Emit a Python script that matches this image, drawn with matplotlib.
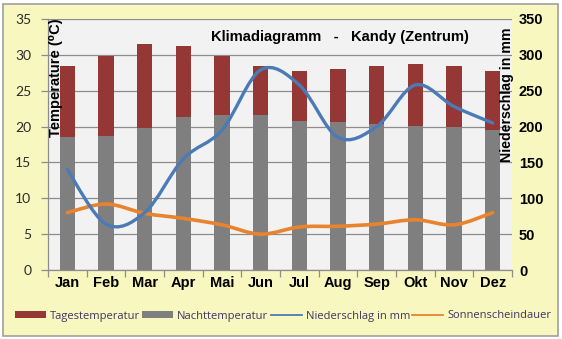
import numpy as np
import matplotlib
matplotlib.use("Agg")
import matplotlib.pyplot as plt
from matplotlib.path import Path
from matplotlib.patches import PathPatch, Rectangle, Patch
from matplotlib.lines import Line2D

months = ["Jan", "Feb", "Mar", "Apr", "Mai", "Jun", "Jul", "Aug", "Sep", "Okt", "Nov", "Dez"]
tag_temp = [28.4, 29.9, 31.5, 31.3, 29.9, 28.4, 27.7, 28.0, 28.4, 28.7, 28.5, 27.7]
nacht_temp = [18.5, 18.7, 19.8, 21.3, 21.6, 21.6, 20.8, 20.6, 20.3, 20.1, 20.0, 19.5]
niederschlag = [140, 64, 80, 155, 195, 279, 258, 185, 200, 258, 228, 205]
sonne = [8.0, 9.2, 7.9, 7.2, 6.3, 5.0, 6.0, 6.1, 6.4, 7.0, 6.3, 8.0]

RED = "#953735"
GRAY = "#7f7f7f"
BLUE = "#4a7bb7"
ORANGE = "#e8832e"
BG = "#f8f7bf"
PLOT_BG = "#f2f2f2"
LEG_TXT = "#3b3563"

W, H = 562, 339
fig = plt.figure(figsize=(W / 100, H / 100), dpi=100, facecolor="white")

# outer frame
fig.patches.append(Rectangle((3 / W, 3 / H), 555 / W, 332 / H, transform=fig.transFigure,
                             facecolor=BG, edgecolor="#a0a0a0", linewidth=1.2, zorder=-10))

ax = fig.add_axes([48 / W, 1 - 270 / H, 464 / W, 251 / H])
ax.set_facecolor(PLOT_BG)
ax2 = ax.twinx()

x = np.arange(len(months))
bw = 0.39
ax.bar(x, tag_temp, width=bw, color=RED, zorder=2)
ax.bar(x, nacht_temp, width=bw, color=GRAY, zorder=3)

ax.set_xlim(-0.5, len(months) - 0.5)
ax.set_ylim(0, 35)
ax2.set_ylim(0, 350)
ax.set_yticks(np.arange(0, 36, 5))
ax2.set_yticks(np.arange(0, 351, 50))
ax.yaxis.grid(True, color="#8c8c8c", linewidth=0.9, zorder=1)
ax.set_axisbelow(True)


def smooth_path(xs, ys):
    """Cubic Bezier path through the points, Excel-style smoothing."""
    pts = np.column_stack([xs, ys]).astype(float)
    n = len(pts)
    verts = [pts[0]]
    codes = [Path.MOVETO]
    for i in range(n - 1):
        p0 = pts[max(i - 1, 0)]
        p1 = pts[i]
        p2 = pts[i + 1]
        p3 = pts[min(i + 2, n - 1)]
        c1 = p1 + (p2 - p0) / 6.0
        c2 = p2 - (p3 - p1) / 6.0
        verts += [c1, c2, p2]
        codes += [Path.CURVE4] * 3
    return Path(verts, codes)


ax2.add_patch(PathPatch(smooth_path(x, niederschlag), facecolor="none", edgecolor=BLUE,
                        linewidth=2.4, capstyle="round", zorder=5))
ax.add_patch(PathPatch(smooth_path(x, sonne), facecolor="none", edgecolor=ORANGE,
                       linewidth=2.6, capstyle="round", zorder=5))

# spines
for s in ["top", "right"]:
    ax.spines[s].set_visible(False)
for s in ["top", "right", "left", "bottom"]:
    ax2.spines[s].set_visible(False)
ax.spines["left"].set_color("#8c8c8c")
ax.spines["bottom"].set_color("#8c8c8c")
ax.spines["left"].set_linewidth(0.9)
ax.spines["bottom"].set_linewidth(0.9)

# x ticks: marks at boundaries, labels at centers
ax.set_xticks(np.arange(len(months) + 1) - 0.5)
ax.set_xticklabels([])
ax.tick_params(axis="x", which="major", length=5, color="#8c8c8c", width=0.9)
ax.set_xticks(x, minor=True)
ax.set_xticklabels(months, minor=True, fontfamily="Liberation Sans", fontweight="bold",
                   fontsize=10.5, color="black")
ax.tick_params(axis="x", which="minor", length=0, pad=4)

ax.tick_params(axis="y", length=5, color="#8c8c8c", width=0.9, pad=7, labelsize=10,
               labelcolor="#2b2b2b")
for lab in ax.get_yticklabels():
    lab.set_fontfamily("Lato")
ax2.tick_params(axis="y", length=0, pad=5, labelsize=10.5)
for lab in ax2.get_yticklabels():
    lab.set_fontfamily("Liberation Sans")
    lab.set_fontweight("bold")

ax.text(0.629, 0.928, "Klimadiagramm   -   Kandy (Zentrum)", transform=ax.transAxes,
        ha="center", va="center", fontsize=10.6, fontweight="bold",
        family=["Liberation Sans", "DejaVu Sans"], zorder=6)
ax.text(0.017, 0.765, "Temperature (\u2070C)", transform=ax.transAxes, rotation=90,
        ha="center", va="center", fontsize=10.5, fontweight="bold",
        family=["Liberation Sans", "DejaVu Sans"], zorder=6)
ax.text(0.989, 0.697, "Niederschlag in mm", transform=ax.transAxes, rotation=90,
        ha="center", va="center", fontsize=10.2, fontweight="bold",
        family=["Liberation Sans", "DejaVu Sans"], zorder=6)

handles = [
    Patch(facecolor=RED, edgecolor="none"),
    Patch(facecolor=GRAY, edgecolor="none"),
    Line2D([], [], color=BLUE, linewidth=1.3),
    Line2D([], [], color=ORANGE, linewidth=1.3),
]
labels = ["Tagestemperatur", "Nachttemperatur", "Niederschlag in mm", "Sonnenscheindauer"]
leg = fig.legend(handles, labels, loc="center", bbox_to_anchor=(283 / W, 1 - 316 / H),
                 ncol=4, frameon=False, handlelength=2.8, handleheight=0.55,
                 handletextpad=0.35, columnspacing=0.2, borderpad=0,
                 prop={"family": "Open Sans", "size": 8})
for t in leg.get_texts():
    t.set_color(LEG_TXT)

fig.savefig("out.png", dpi=100, facecolor=fig.get_facecolor())
